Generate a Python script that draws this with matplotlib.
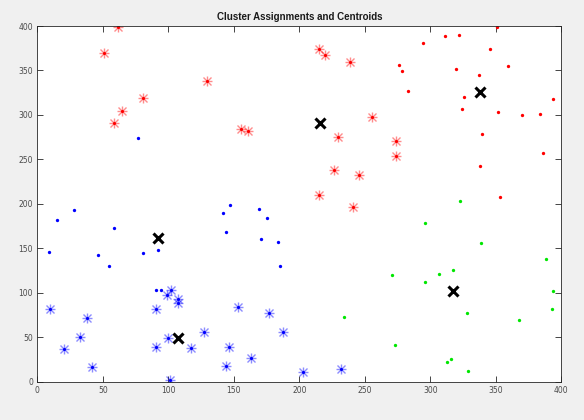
import matplotlib
matplotlib.use("Agg")
import matplotlib.pyplot as plt
from matplotlib import font_manager

# ---- data ----
red_dot_x = [294.7, 311.5, 322.0, 350.9, 345.3, 276.1, 278.4, 319.6, 337.2, 359.1, 283.2,
             326.0, 324.0, 351.4, 369.8, 383.7, 393.7, 339.7, 386.3, 337.9, 353.4]
red_dot_y = [380.5, 389.1, 389.9, 398.5, 374.1, 355.8, 349.4, 352.0, 345.3, 354.6, 326.9,
             320.1, 306.3, 303.6, 299.6, 301.4, 317.5, 278.1, 257.1, 242.5, 207.6]

red_ast_x = [50.7, 61.9, 80.9, 64.9, 58.5, 129.8, 155.3, 160.6, 215.3, 219.4, 238.7,
             255.5, 229.3, 274.0, 273.6, 226.7, 245.8, 214.8, 240.7]
red_ast_y = [370.0, 399.3, 319.4, 304.0, 291.3, 338.1, 284.1, 282.3, 374.5, 367.4, 359.0,
             297.6, 275.5, 270.6, 254.1, 237.6, 232.4, 210.0, 196.8]

blue_dot_x = [8.7, 15.3, 28.2, 58.8, 46.3, 54.5, 80.9, 91.9, 90.3, 94.1, 141.5, 147.0,
              144.0, 169.2, 170.5, 175.0, 183.7, 185.2, 77.1]
blue_dot_y = [146.4, 182.0, 193.0, 173.0, 143.0, 129.6, 145.0, 147.6, 102.6, 102.6, 189.5,
              199.0, 168.0, 194.0, 161.0, 184.6, 157.0, 130.0, 274.0]

blue_ast_x = [9.7, 20.6, 38.2, 32.8, 41.5, 90.8, 90.8, 99.2, 102.0, 107.4, 107.4, 99.5,
              101.5, 117.0, 127.5, 143.8, 146.0, 153.4, 163.0, 177.0, 187.3, 202.8, 231.8]
blue_ast_y = [81.3, 36.7, 71.5, 50.6, 16.5, 39.3, 81.6, 97.4, 103.0, 92.5, 88.0, 48.7,
              1.9, 38.2, 55.4, 17.2, 39.3, 83.9, 26.6, 76.8, 56.2, 11.2, 14.3]

green_dot_x = [322.9, 296.0, 338.7, 388.0, 271.0, 306.6, 317.6, 295.7, 393.9, 392.7, 328.0,
               368.0, 234.1, 273.0, 315.8, 312.7, 328.8]
green_dot_y = [203.6, 178.5, 156.0, 138.0, 119.6, 120.7, 125.6, 112.0, 102.0, 81.4, 76.9,
               69.4, 73.1, 41.6, 25.5, 21.7, 11.6]

centroid_x = [92.1, 107.4, 215.6, 337.9, 317.6]
centroid_y = [161.4, 49.4, 291.3, 326.1, 101.6]

title = "Cluster Assignments and Centroids"
ticks = [0, 50, 100, 150, 200, 250, 300, 350, 400]

# ---- style ----
names = {f.name for f in font_manager.fontManager.ttflist}
title_font = "Liberation Sans Narrow" if "Liberation Sans Narrow" in names else "Liberation Sans"

fig = plt.figure(figsize=(5.84, 4.20), dpi=100, facecolor="#f0f0f0")
ax = fig.add_axes([37.3 / 584, 1 - 381.7 / 420, (561.3 - 37.3) / 584, (381.7 - 26) / 420])
ax.set_facecolor("white")

RED, BLUE, GREEN = (1, 0, 0), (0, 0, 1), (0, 0.9, 0)

def asterisk(x, y, c):
    ax.plot(x, y, ls="none", marker="+", ms=7.5, mew=1.0, color=c, alpha=0.45)
    ax.plot(x, y, ls="none", marker="x", ms=5.4, mew=1.0, color=c, alpha=0.45)
    ax.plot(x, y, ls="none", marker="o", ms=2.2, mew=0, color=c)

asterisk(red_ast_x, red_ast_y, RED)
asterisk(blue_ast_x, blue_ast_y, BLUE)
ax.plot(red_dot_x, red_dot_y, ls="none", marker="o", ms=2.4, mew=0, color=RED)
ax.plot(blue_dot_x, blue_dot_y, ls="none", marker="o", ms=2.4, mew=0, color=BLUE)
ax.plot(green_dot_x, green_dot_y, ls="none", marker="o", ms=2.4, mew=0, color=GREEN)
ax.plot(centroid_x, centroid_y, ls="none", marker="x", ms=6.5, mew=2.2, color="black")

ax.set_xlim(0, 400)
ax.set_ylim(0, 400)
ax.set_xticks(ticks)
ax.set_yticks(ticks)
ax.tick_params(direction="in", length=4, width=0.6, top=True, right=True,
               labelsize=5.5, labelcolor="#4a4a4a", color="#262626", pad=3)
for s in ax.spines.values():
    s.set_color("#262626")
    s.set_linewidth(0.6)

ax.set_title(title, fontsize=7, fontweight="bold", family=title_font, pad=4, color="#1a1a1a")

fig.savefig("out.png", dpi=100, facecolor=fig.get_facecolor())
